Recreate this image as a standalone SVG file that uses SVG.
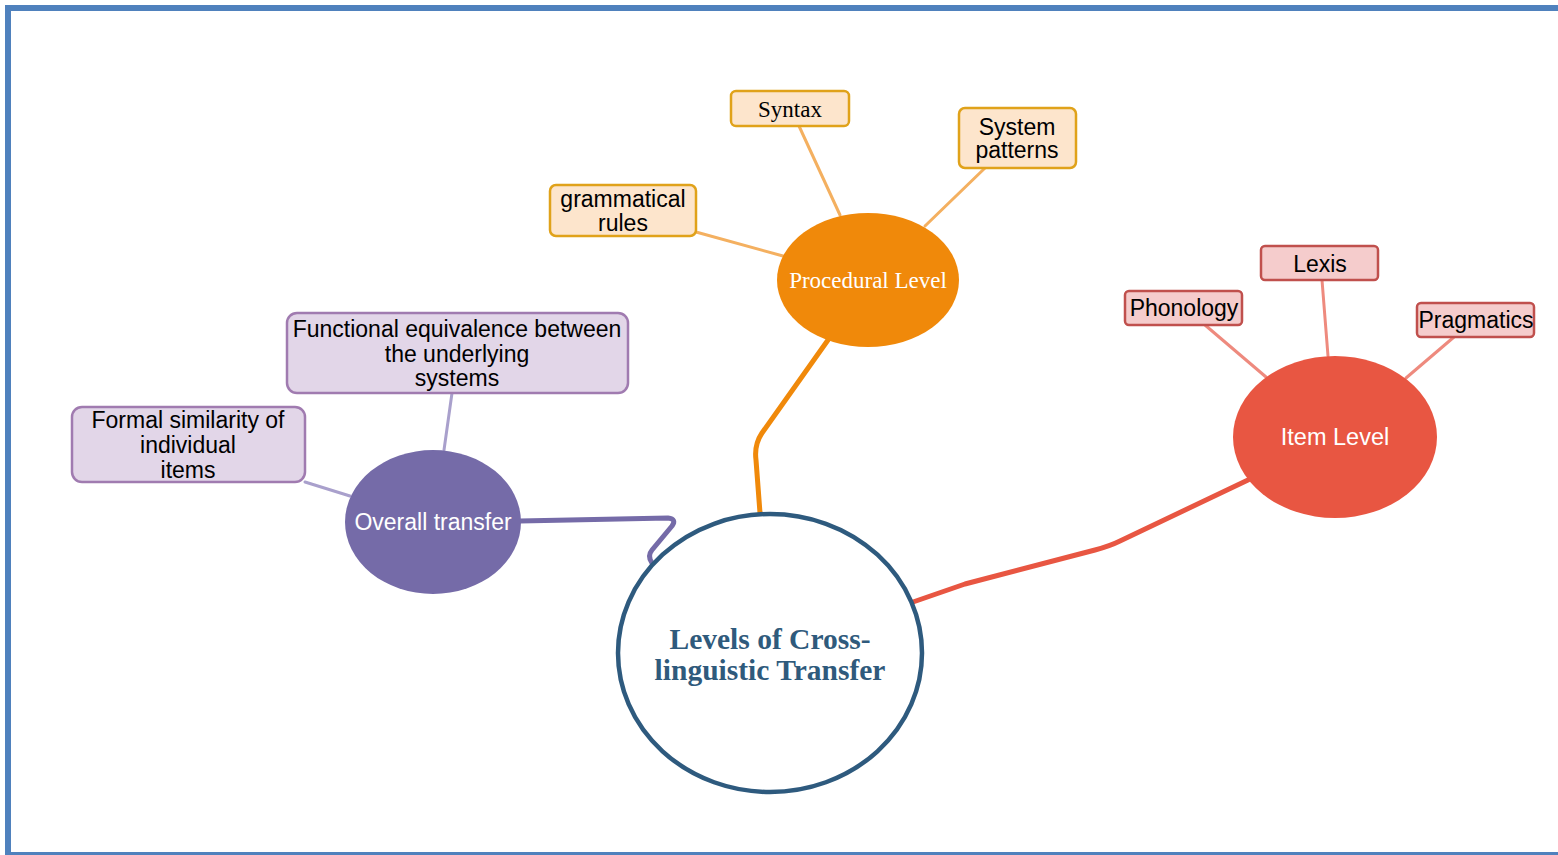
<svg xmlns="http://www.w3.org/2000/svg" width="1558" height="855" viewBox="0 0 1558 855">
<style>
.sans{font-family:"Liberation Sans",Arial,sans-serif}
.serif{font-family:"Liberation Serif","Times New Roman",serif}
.t{font-size:23px;fill:#000;text-anchor:middle}
.wt{fill:#fff;text-anchor:middle}
.obox{fill:#FDE5CC;stroke:#E0A21A;stroke-width:2.5}
.rbox{fill:#F5CCCC;stroke:#C0504D;stroke-width:2.5}
.pbox{fill:#E2D6E8;stroke:#A07BB0;stroke-width:2.5}
.c{fill:none;stroke-linecap:round;stroke-linejoin:round}
</style>
<rect x="0" y="0" width="1558" height="855" fill="#fff"/>
<g id="frame" fill="#4F81BD">
<rect x="5" y="5" width="1553" height="6"/>
<rect x="5" y="5" width="6" height="850"/>
<rect x="5" y="852" width="1553" height="3"/>
</g>
<g id="connectors" class="c">
<path d="M799,126 L840,215" stroke="#F4B060" stroke-width="3"/>
<path d="M985,168 L925,226" stroke="#F4B060" stroke-width="3"/>
<path d="M696,232 L783,256" stroke="#F4B060" stroke-width="3"/>
<path d="M828,340 L762,433 Q754,445 756,460 L760,513" stroke="#F0890A" stroke-width="5"/>
<path d="M1322,280 L1328,356" stroke="#EE8A7E" stroke-width="3"/>
<path d="M1205,325 L1266,377" stroke="#EE8A7E" stroke-width="3"/>
<path d="M1454,337 L1406,378" stroke="#EE8A7E" stroke-width="3"/>
<path d="M1248,480 L1120,541 Q1110,546 1095,550 L965,584 L913,602" stroke="#E85642" stroke-width="5"/>
<path d="M452,393 L444,450" stroke="#A9A0CC" stroke-width="3"/>
<path d="M305,482 L350,496" stroke="#A9A0CC" stroke-width="3"/>
<path d="M520,521 L668,518 Q677,519 672,526 L652,550 Q647,556 652,563" stroke="#756BA8" stroke-width="5"/>
</g>
<g id="center">
<ellipse cx="770" cy="653" rx="152" ry="139" fill="#fff" stroke="#2E5A7E" stroke-width="4.5"/>
<text class="serif" x="770" y="649" font-size="29.5" font-weight="bold" fill="#2F5A7C" text-anchor="middle">Levels of Cross-</text>
<text class="serif" x="770" y="680" font-size="29.5" font-weight="bold" fill="#2F5A7C" text-anchor="middle">linguistic Transfer</text>
</g>
<g id="procedural">
<ellipse cx="868" cy="280" rx="91" ry="67" fill="#F0890A"/>
<text class="serif wt" x="868" y="288" font-size="23">Procedural Level</text>
</g>
<g id="syntax">
<rect class="obox" x="731" y="91" width="118" height="35" rx="5"/>
<text class="serif t" x="790" y="117">Syntax</text>
</g>
<g id="system-patterns">
<rect class="obox" x="959" y="108" width="117" height="60" rx="6"/>
<text class="sans t" x="1017" y="135">System</text>
<text class="sans t" x="1017" y="158">patterns</text>
</g>
<g id="grammatical-rules">
<rect class="obox" x="550" y="185" width="146" height="51" rx="6"/>
<text class="sans t" x="623" y="207">grammatical</text>
<text class="sans t" x="623" y="231">rules</text>
</g>
<g id="item-level">
<ellipse cx="1335" cy="437" rx="102" ry="81" fill="#E85642"/>
<text class="sans wt" x="1335" y="445" font-size="23.5">Item Level</text>
</g>
<g id="lexis">
<rect class="rbox" x="1261" y="246" width="117" height="34" rx="4"/>
<text class="sans t" x="1320" y="272">Lexis</text>
</g>
<g id="phonology">
<rect class="rbox" x="1125" y="291" width="117" height="34" rx="4"/>
<text class="sans t" x="1184" y="316">Phonology</text>
</g>
<g id="pragmatics">
<rect class="rbox" x="1417" y="303" width="117" height="34" rx="4"/>
<text class="sans t" x="1476" y="328">Pragmatics</text>
</g>
<g id="overall-transfer">
<ellipse cx="433" cy="522" rx="88" ry="72" fill="#756BA8"/>
<text class="sans wt" x="433" y="530" font-size="23">Overall transfer</text>
</g>
<g id="functional-equivalence">
<rect class="pbox" x="287" y="313" width="341" height="80" rx="10"/>
<text class="sans t" x="457" y="337">Functional equivalence between</text>
<text class="sans t" x="457" y="362">the underlying</text>
<text class="sans t" x="457" y="386">systems</text>
</g>
<g id="formal-similarity">
<rect class="pbox" x="72" y="407" width="233" height="75" rx="10"/>
<text class="sans t" x="188" y="428">Formal similarity of</text>
<text class="sans t" x="188" y="453">individual</text>
<text class="sans t" x="188" y="478">items</text>
</g>
</svg>
